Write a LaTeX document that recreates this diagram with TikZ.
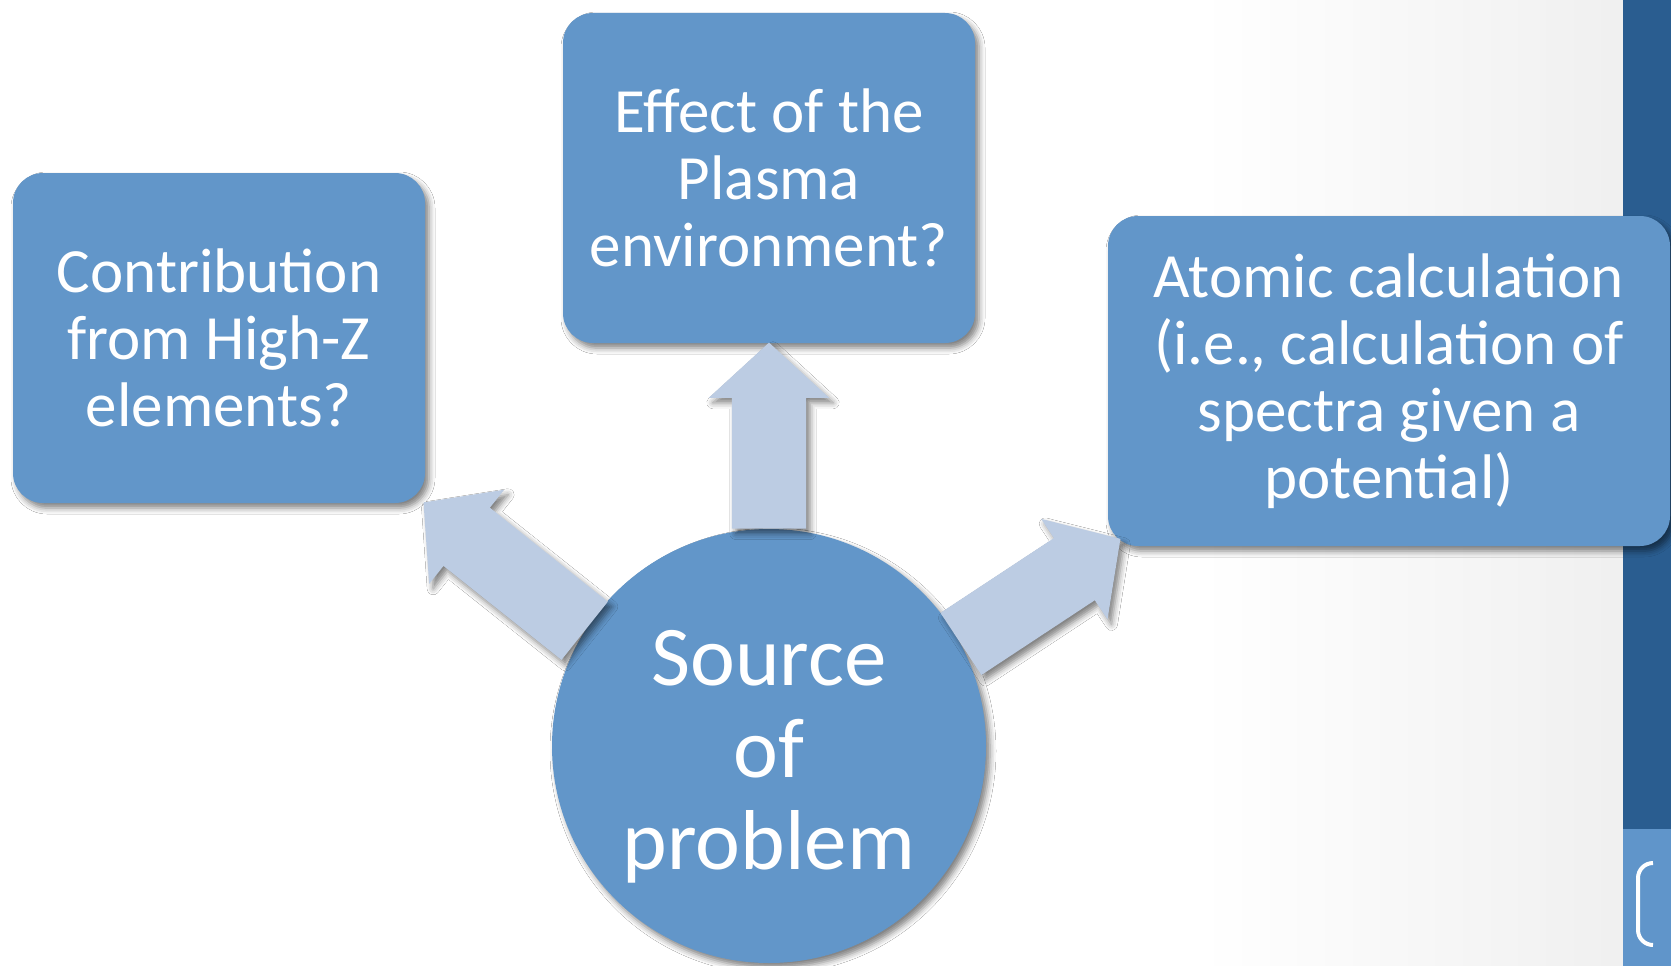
\documentclass[tikz,border=0pt]{standalone}
\usepackage{fontspec}
\setmainfont{Carlito}
\usetikzlibrary{shapes.arrows,shadows.blur}

\definecolor{boxblue}{RGB}{98,150,201}
\definecolor{arrowblue}{RGB}{188,204,227}
\definecolor{bardark}{RGB}{42,93,144}
\definecolor{barlight}{RGB}{96,149,202}

\begin{document}
\begin{tikzpicture}[x=1pt,y=-1pt]
% Node styles ---
\tikzstyle{topic} = [rectangle, rounded corners = 30pt, minimum width = 412pt, minimum height = 330pt, inner sep = 0pt, fill = boxblue, text = white, align = center, font = \fontsize{63}{67}\selectfont, blur shadow = {shadow xshift = 4pt, shadow yshift = -5pt, shadow blur radius = 6pt, shadow opacity = 50}] % Question boxes
\tikzstyle{hub} = [circle, minimum size = 434pt, inner sep = 0pt, fill = boxblue, text = white, align = center, font = \fontsize{85}{92}\selectfont, blur shadow = {shadow xshift = 4pt, shadow yshift = -5pt, shadow blur radius = 6pt, shadow opacity = 50}] % Centre circle
% Edge styles
\tikzstyle{push} = [single arrow, single arrow head extend = 23pt, single arrow tip angle = 95, minimum width = 0pt, inner xsep = 0pt, inner ysep = 37pt, fill = arrowblue, pos = 0, sloped, allow upside down, anchor = tail, blur shadow = {shadow xshift = 4pt, shadow yshift = -5pt, shadow blur radius = 6pt, shadow opacity = 50}] % Block arrows
% Begin Figure ---
\useasboundingbox (0,0) rectangle (1671,966);
% Slide background
\fill[white] (0,0) rectangle (1623,966);
\shade[left color = white, right color = black!6] (1200,0) rectangle (1623,966);
\fill[bardark] (1623,0) rectangle (1671,829);
\fill[barlight] (1623,829) rectangle (1671,966);
\draw[white, line width = 4pt, rounded corners = 15pt] (1653,863) -- (1638,863) -- (1638,945) -- (1653,945);
% Nodes
\node at (219,338) [topic] (highz) {Contribution\\from High-Z\\elements?};
\node at (769,178) [topic] (plasma) {Effect of the\\Plasma\\environment?};
\node at (1389,381) [topic, minimum width = 562pt] (atomic) {Atomic calculation\\(i.e., calculation of\\spectra given a\\potential)};
\node at (769,746) [hub] (source) {\\[-16pt]Source\\of\\problem};
% Paths
\path (source.north) -- (plasma.south) node [push, minimum height = 186pt] {};
\path (source.148.5) -- ([shift = {(-2,-1)}]highz.south east) node [push, minimum height = 206pt] {};
\path (source.28) -- ([shift = {(12,-7)}]atomic.south west) node [push, minimum height = 191pt] {};
\end{tikzpicture}
\end{document}
